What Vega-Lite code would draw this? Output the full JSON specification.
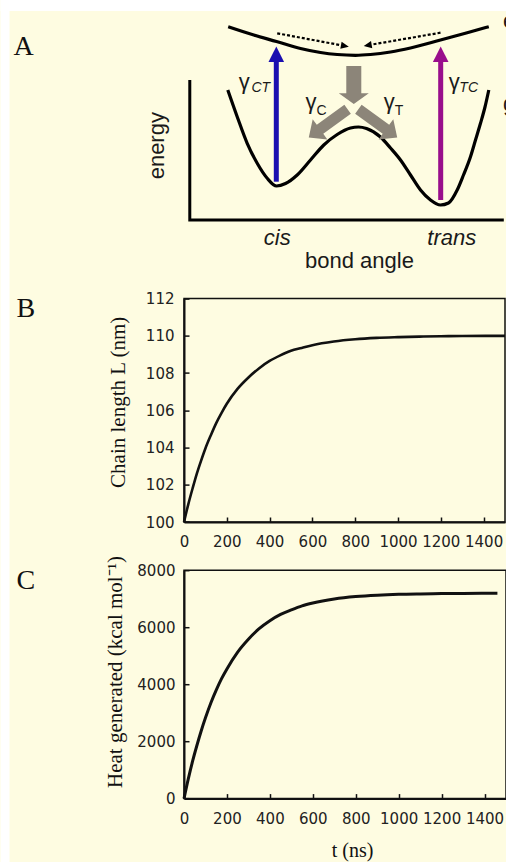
{
  "$schema": "https://vega.github.io/schema/vega-lite/v6.json",
  "background": "#fefce1",
  "padding": {"left": 0, "top": 0, "right": 0, "bottom": 0},
  "spacing": 47.6,
  "bounds": "flush",
  "config": {
    "view": {"stroke": null},
    "axis": {"grid": false}
  },
  "datasets": {
    "upper": [
      {"X": -29.45, "E": 19.33}, {"X": -13.84, "E": 18.5}, {"X": 0, "E": 17.85},
      {"X": 14.63, "E": 17.15}, {"X": 26.83, "E": 16.75}, {"X": 37.01, "E": 16.55},
      {"X": 48.17, "E": 16.47}, {"X": 57.32, "E": 16.55}, {"X": 69.51, "E": 16.8},
      {"X": 81.71, "E": 17.2}, {"X": 100, "E": 18.0}, {"X": 116.28, "E": 18.73},
      {"X": 129.45, "E": 19.33}
    ],
    "lower": [
      {"X": -29.7, "E": 13.0}, {"X": -23.96, "E": 10.33}, {"X": -17.87, "E": 7.67},
      {"X": -11.77, "E": 5.67}, {"X": -5.67, "E": 4.17}, {"X": 0, "E": 3.4},
      {"X": 5.49, "E": 3.65}, {"X": 12.62, "E": 4.5}, {"X": 20.73, "E": 6.0},
      {"X": 28.84, "E": 7.5}, {"X": 37.01, "E": 8.55}, {"X": 45.12, "E": 9.2},
      {"X": 50.0, "E": 9.3}, {"X": 54.88, "E": 9.15}, {"X": 63.41, "E": 8.3},
      {"X": 69.51, "E": 7.2}, {"X": 75.61, "E": 6.0}, {"X": 81.71, "E": 4.5},
      {"X": 87.8, "E": 3.0}, {"X": 93.9, "E": 2.0}, {"X": 100.0, "E": 1.5},
      {"X": 104.88, "E": 1.7}, {"X": 110.18, "E": 3.0}, {"X": 114.02, "E": 4.5},
      {"X": 118.29, "E": 6.33}, {"X": 121.34, "E": 8.0}, {"X": 124.39, "E": 9.67},
      {"X": 127.13, "E": 11.3}, {"X": 129.45, "E": 13.0}
    ],
    "chain": [
      {"t": 0, "L": 100}, {"t": 20, "L": 100.95}, {"t": 40, "L": 101.8}, {"t": 60, "L": 102.6},
      {"t": 80, "L": 103.3}, {"t": 100, "L": 103.95}, {"t": 125, "L": 104.65}, {"t": 150, "L": 105.3},
      {"t": 175, "L": 105.85}, {"t": 200, "L": 106.35}, {"t": 250, "L": 107.15}, {"t": 300, "L": 107.75},
      {"t": 350, "L": 108.25}, {"t": 400, "L": 108.65}, {"t": 450, "L": 108.95}, {"t": 500, "L": 109.2},
      {"t": 550, "L": 109.35}, {"t": 600, "L": 109.5}, {"t": 700, "L": 109.7}, {"t": 800, "L": 109.82},
      {"t": 900, "L": 109.89}, {"t": 1000, "L": 109.93}, {"t": 1100, "L": 109.96}, {"t": 1200, "L": 109.98},
      {"t": 1300, "L": 109.99}, {"t": 1500, "L": 110}
    ],
    "heat": [
      {"t": 0, "H": 0}, {"t": 20, "H": 690}, {"t": 40, "H": 1310}, {"t": 60, "H": 1860},
      {"t": 80, "H": 2370}, {"t": 100, "H": 2830}, {"t": 125, "H": 3350}, {"t": 150, "H": 3800},
      {"t": 175, "H": 4200}, {"t": 200, "H": 4540}, {"t": 250, "H": 5130}, {"t": 300, "H": 5580},
      {"t": 350, "H": 5950}, {"t": 400, "H": 6230}, {"t": 450, "H": 6450}, {"t": 500, "H": 6610},
      {"t": 550, "H": 6750}, {"t": 600, "H": 6850}, {"t": 700, "H": 6990}, {"t": 800, "H": 7075},
      {"t": 900, "H": 7125}, {"t": 1000, "H": 7155}, {"t": 1100, "H": 7170}, {"t": 1200, "H": 7180},
      {"t": 1300, "H": 7187}, {"t": 1460, "H": 7192}
    ]
  },
  "vconcat": [
    {
      "width": 322,
      "height": 240.7,
      "encoding": {
        "x": {"field": "X", "type": "quantitative", "scale": {"domain": [-56.4, 139.94], "nice": false, "zero": false}, "axis": null},
        "y": {"field": "E", "type": "quantitative", "scale": {"domain": [-3.07, 21.0], "nice": false, "zero": false}, "axis": null}
      },
      "layer": [
        {
          "data": {"values": [{"X": -168.29, "X2": 140.2, "E": 22.0, "E2": 20.9}, {"X": -168.29, "X2": -162.8, "E": 22.0, "E2": -64.2}]},
          "mark": {"type": "rect", "color": "#ffffff", "opacity": 1, "strokeWidth": 0},
          "encoding": {"x2": {"field": "X2"}, "y2": {"field": "E2"}}
        },
        {
          "data": {"values": [{"X": -52.87, "E": 14.0, "i": 0}, {"X": -52.87, "E": 0, "i": 1}, {"X": 138.6, "E": 0, "i": 2}]},
          "mark": {"type": "line", "color": "black", "strokeWidth": 3, "strokeJoin": "miter", "strokeCap": "butt"},
          "encoding": {"order": {"field": "i", "type": "quantitative"}}
        },
        {
          "data": {"name": "upper"},
          "mark": {"type": "line", "color": "black", "strokeWidth": 3.2, "interpolate": "monotone"}
        },
        {
          "data": {"name": "lower"},
          "mark": {"type": "line", "color": "black", "strokeWidth": 3.2, "interpolate": "monotone"}
        },
        {
          "data": {"values": [{"X": -0.12, "E": 3.83, "E2": 15.9}]},
          "mark": {"type": "rule", "color": "#1b0fb0", "strokeWidth": 5},
          "encoding": {"y2": {"field": "E2"}}
        },
        {
          "data": {"values": [{"X": -0.12, "E": 16.58}]},
          "mark": {"type": "point", "shape": "M0,-1L1,1L-1,1Z", "size": 243, "filled": true, "color": "#1b0fb0", "opacity": 1, "strokeWidth": 0}
        },
        {
          "data": {"values": [{"X": 100.12, "E": 2.0, "E2": 15.9}]},
          "mark": {"type": "rule", "color": "#990e8c", "strokeWidth": 5},
          "encoding": {"y2": {"field": "E2"}}
        },
        {
          "data": {"values": [{"X": 100.12, "E": 16.58}]},
          "mark": {"type": "point", "shape": "M0,-1L1,1L-1,1Z", "size": 243, "filled": true, "color": "#990e8c", "opacity": 1, "strokeWidth": 0}
        },
        {
          "data": {"values": [{"X": 0.43, "E": 18.67, "X2": 39.27, "E2": 17.48}, {"X": 100, "E": 18.73, "X2": 58.05, "E2": 17.54}]},
          "mark": {"type": "rule", "color": "black", "strokeWidth": 2.2, "strokeDash": [3, 2]},
          "encoding": {"x2": {"field": "X2"}, "y2": {"field": "E2"}}
        },
        {
          "data": {"values": [{"X": 41.7, "E": 17.4}]},
          "mark": {"type": "point", "shape": "M0,-1L0.9,1L-0.9,1Z", "size": 64, "angle": 100.6, "filled": true, "color": "black", "opacity": 1, "strokeWidth": 0}
        },
        {
          "data": {"values": [{"X": 55.61, "E": 17.47}]},
          "mark": {"type": "point", "shape": "M0,-1L0.9,1L-0.9,1Z", "size": 64, "angle": 260.2, "filled": true, "color": "black", "opacity": 1, "strokeWidth": 0}
        },
        {
          "data": {"values": [{"X": 47.13, "E": 13.5}]},
          "mark": {"type": "point", "shape": "M-0.395,-1L0.395,-1L0.395,0.437L0.79,0.437L0,1L-0.79,0.437L-0.395,0.437Z", "size": 1444, "filled": true, "color": "#8c8579", "opacity": 1, "strokeWidth": 0}
        },
        {
          "data": {"values": [{"X": 31.52, "E": 9.66}]},
          "mark": {"type": "point", "shape": "M-0.23,-1L0.23,-1L0.23,0.42L0.52,0.42L0,1L-0.52,0.42L-0.23,0.42Z", "size": 2304, "angle": 54, "filled": true, "color": "#8c8579", "opacity": 1, "strokeWidth": 0}
        },
        {
          "data": {"values": [{"X": 61.77, "E": 9.66}]},
          "mark": {"type": "point", "shape": "M-0.23,-1L0.23,-1L0.23,0.42L0.52,0.42L0,1L-0.52,0.42L-0.23,0.42Z", "size": 2304, "angle": 306, "filled": true, "color": "#8c8579", "opacity": 1, "strokeWidth": 0}
        },
        {
          "data": {"values": [{"X": -68.48, "E": 7.43, "label": "energy"}]},
          "mark": {"type": "text", "font": "Liberation Sans", "fontSize": 22, "angle": 270, "align": "center", "baseline": "alphabetic", "color": "#1a1a1a"},
          "encoding": {"text": {"field": "label"}}
        },
        {
          "data": {"values": [{"X": 50.6, "E": -4.83, "label": "bond angle"}]},
          "mark": {"type": "text", "font": "Liberation Sans", "fontSize": 22, "align": "center", "baseline": "alphabetic", "color": "#1a1a1a"},
          "encoding": {"text": {"field": "label"}}
        },
        {
          "data": {"values": [{"X": 0.43, "E": -2.5, "label": "cis"}, {"X": 106.9, "E": -2.5, "label": "trans"}]},
          "mark": {"type": "text", "font": "Liberation Sans", "fontSize": 22, "fontStyle": "italic", "align": "center", "baseline": "alphabetic", "color": "#1a1a1a"},
          "encoding": {"text": {"field": "label"}}
        },
        {
          "data": {"values": [{"X": 138.1, "E": 19.17, "label": "e"}, {"X": 138.1, "E": 10.86, "label": "g"}]},
          "mark": {"type": "text", "font": "Liberation Sans", "fontSize": 22, "align": "left", "baseline": "alphabetic", "color": "#1a1a1a", "clip": true},
          "encoding": {"text": {"field": "label"}}
        },
        {
          "data": {"values": [{"X": -23.0, "E": 13.15, "label": "γ"}, {"X": 17.68, "E": 11.1, "label": "γ"}, {"X": 65.43, "E": 11.1, "label": "γ"}, {"X": 105.06, "E": 13.15, "label": "γ"}]},
          "mark": {"type": "text", "font": "Liberation Sans", "fontSize": 22, "align": "left", "baseline": "alphabetic", "color": "#1a1a1a"},
          "encoding": {"text": {"field": "label"}}
        },
        {
          "data": {"values": [{"X": -15.3, "E": 12.8, "label": "CT"}, {"X": 111.5, "E": 12.8, "label": "TC"}]},
          "mark": {"type": "text", "font": "Liberation Sans", "fontSize": 14, "fontStyle": "italic", "align": "left", "baseline": "alphabetic", "color": "#1a1a1a"},
          "encoding": {"text": {"field": "label"}}
        },
        {
          "data": {"values": [{"X": 24.4, "E": 10.5, "label": "C"}, {"X": 72.1, "E": 10.5, "label": "T"}]},
          "mark": {"type": "text", "font": "Liberation Sans", "fontSize": 14, "align": "left", "baseline": "alphabetic", "color": "#1a1a1a"},
          "encoding": {"text": {"field": "label"}}
        },
        {
          "data": {"values": [{"X": -160.4, "E": 16.5, "label": "A"}]},
          "mark": {"type": "text", "font": "Liberation Serif", "fontSize": 28, "align": "left", "baseline": "alphabetic", "color": "#111"},
          "encoding": {"text": {"field": "label"}}
        }
      ]
    },
    {
      "width": 321,
      "height": 223.4,
      "view": {"stroke": "#111", "strokeWidth": 1.5},
      "encoding": {
        "x": {"field": "t", "type": "quantitative", "scale": {"domain": [0, 1500], "nice": false},
          "axis": {"title": null, "values": [0, 200, 400, 600, 800, 1000, 1200, 1400], "format": "d", "labelOverlap": false, "tickSize": -5, "tickWidth": 1.5, "tickColor": "#111", "domainColor": "#111", "domainWidth": 2, "labelFont": "DejaVu Sans", "labelFontSize": 15, "labelColor": "#222", "labelPadding": 17, "labelFlush": false}},
        "y": {"field": "L", "type": "quantitative", "scale": {"domain": [100, 112], "nice": false, "zero": false},
          "axis": {"title": "Chain length L (nm)", "values": [100, 102, 104, 106, 108, 110, 112], "format": "d", "labelOverlap": false, "tickSize": -5, "tickWidth": 1.5, "tickColor": "#111", "domainColor": "#111", "domainWidth": 2, "labelFont": "DejaVu Sans", "labelFontSize": 15, "labelColor": "#222", "labelPadding": 15, "labelFlush": false, "titleFont": "Liberation Serif", "titleFontSize": 21, "titleFontWeight": "normal", "titleColor": "#111", "titlePadding": 17, "titleY": 103.2}}
      },
      "layer": [
        {
          "data": {"name": "chain"},
          "mark": {"type": "line", "color": "#111", "strokeWidth": 2.6, "interpolate": "monotone"}
        },
        {
          "data": {"values": [{"t": -782.7, "L": 111.01, "label": "B"}]},
          "mark": {"type": "text", "font": "Liberation Serif", "fontSize": 28, "align": "left", "baseline": "alphabetic", "color": "#111"},
          "encoding": {"text": {"field": "label"}}
        }
      ]
    },
    {
      "width": 322,
      "height": 228.4,
      "view": {"stroke": "#111", "strokeWidth": 1.5},
      "encoding": {
        "x": {"field": "t", "type": "quantitative", "scale": {"domain": [0, 1500], "nice": false},
          "axis": {"title": "t (ns)", "values": [0, 200, 400, 600, 800, 1000, 1200, 1400], "format": "d", "labelOverlap": false, "tickSize": -5, "tickWidth": 1.5, "tickColor": "#111", "domainColor": "#111", "domainWidth": 2, "labelFont": "DejaVu Sans", "labelFontSize": 15, "labelColor": "#222", "labelPadding": 18, "labelFlush": false, "titleFont": "Liberation Serif", "titleFontSize": 20, "titleFontWeight": "normal", "titleColor": "#111", "titlePadding": 14, "titleX": 168}},
        "y": {"field": "H", "type": "quantitative", "scale": {"domain": [0, 8000], "nice": false},
          "axis": {"title": "Heat generated (kcal mol⁻¹)", "values": [0, 2000, 4000, 6000, 8000], "format": "d", "labelOverlap": false, "tickSize": -5, "tickWidth": 1.5, "tickColor": "#111", "domainColor": "#111", "domainWidth": 2, "labelFont": "DejaVu Sans", "labelFontSize": 15, "labelColor": "#222", "labelPadding": 14, "labelFlush": false, "titleFont": "Liberation Serif", "titleFontSize": 21, "titleFontWeight": "normal", "titleColor": "#111", "titlePadding": 11, "titleY": 101.3}}
      },
      "layer": [
        {
          "data": {"name": "heat"},
          "mark": {"type": "line", "color": "#111", "strokeWidth": 3, "interpolate": "monotone"}
        },
        {
          "data": {"values": [{"t": -780.2, "H": 7334.5, "label": "C"}]},
          "mark": {"type": "text", "font": "Liberation Serif", "fontSize": 28, "align": "left", "baseline": "alphabetic", "color": "#111"},
          "encoding": {"text": {"field": "label"}}
        }
      ]
    }
  ]
}
